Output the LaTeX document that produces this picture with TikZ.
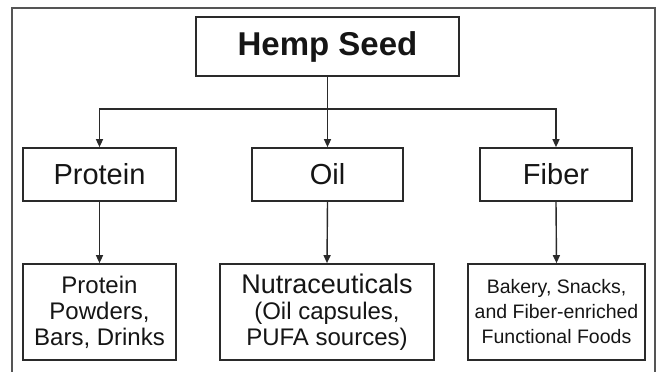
\documentclass[tikz,border=0pt]{standalone}
\usepackage{fontspec}
\setmainfont{Liberation Sans}
\usetikzlibrary{arrows.meta}
\definecolor{boxline}{HTML}{2A2A2A}
\definecolor{frameline}{HTML}{555555}
\definecolor{txt}{HTML}{151515}
\begin{document}
\begin{tikzpicture}[x=1pt,y=-1pt,
  boxnode/.style={draw=boxline, line width=1.7pt, rectangle, inner sep=0pt, align=center, text=txt},
  conn/.style={draw=boxline, line width=1.4pt},
  arr/.style={conn, -{Triangle[length=8pt,width=7pt]}}]
\useasboundingbox (0,0) rectangle (659,372);
\draw[frameline, line width=1.3pt] (12,372) -- (12,8) -- (655,8) -- (655,372);
\node[boxnode, minimum width=263pt, minimum height=59pt, font=\fontsize{33}{38}\selectfont\bfseries] (hemp) at (327.5,46.5) {Hemp Seed};
\node[boxnode, minimum width=153pt, minimum height=53pt, font=\fontsize{29}{34}\selectfont] (protein) at (99.5,174.5) {Protein};
\node[boxnode, minimum width=151pt, minimum height=53pt, font=\fontsize{29}{34}\selectfont] (oil) at (327.5,174.5) {Oil};
\node[boxnode, minimum width=152pt, minimum height=53pt, font=\fontsize{29}{34}\selectfont] (fiber) at (556,174.5) {Fiber};
\node[boxnode, minimum width=153pt, minimum height=96pt, font=\fontsize{24}{26}\selectfont] (pp) at (99.5,312) {Protein\\Powders,\\Bars, Drinks};
\node[boxnode, minimum width=214pt, minimum height=96pt, font=\fontsize{24}{26}\selectfont] (nutra) at (327,312) {{\fontsize{27}{28}\selectfont Nutraceuticals}\\(Oil capsules,\\PUFA sources)};
\node[boxnode, minimum width=177pt, minimum height=96pt, font=\fontsize{19.5}{25}\selectfont] (bakery) at (556.5,312) {Bakery, Snacks,\\and Fiber-enriched\\Functional Foods};
\draw[conn] (hemp.south) -- ++(0,32) coordinate (j);
\draw[arr] (j) -| (protein.north);
\draw[arr] (j) -| (fiber.north);
\draw[arr] (j) -- (oil.north);
\draw[arr] (protein.south) -- (pp.north);
\draw[arr] (oil.south) -- (nutra.north);
\draw[arr] (fiber.south) -- (bakery.north);
\end{tikzpicture}
\end{document}
